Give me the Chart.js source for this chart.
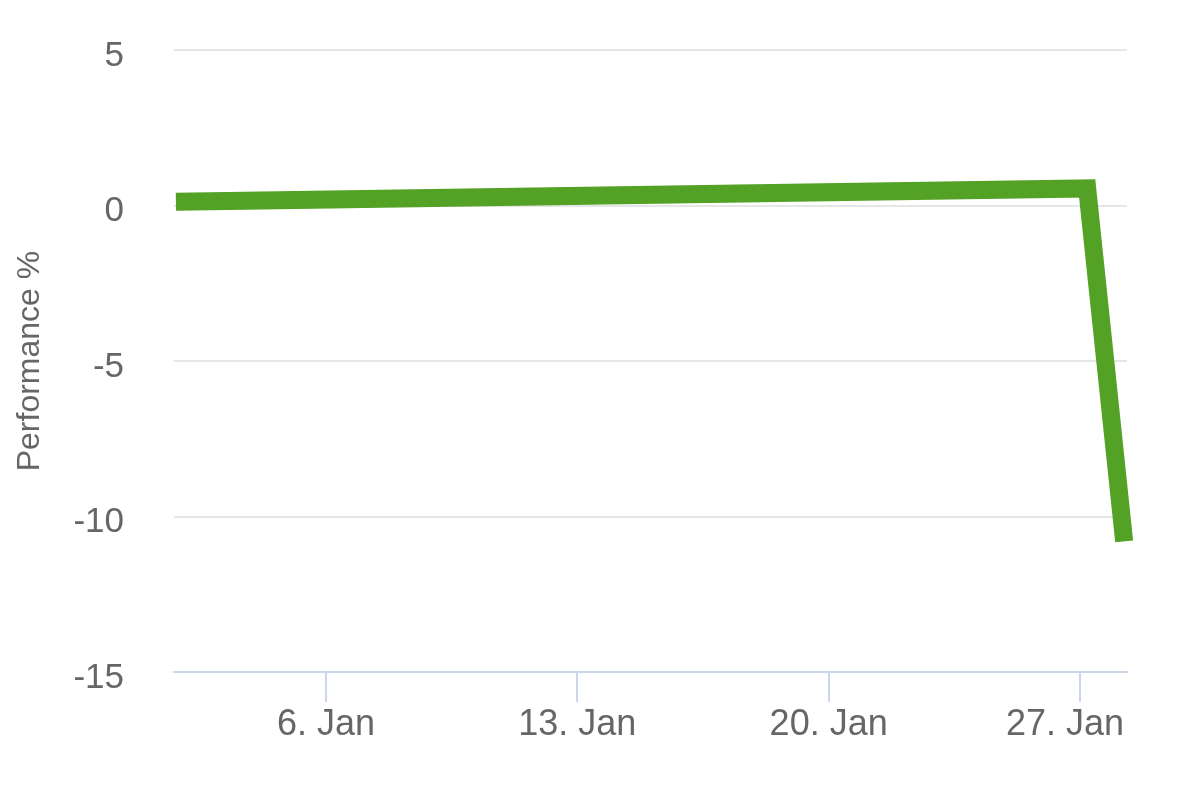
<!DOCTYPE html>
<html>
<head>
<meta charset="utf-8">
<script src="https://cdn.jsdelivr.net/npm/chart.js@4/dist/chart.umd.min.js"></script>
<style>
  html, body { margin: 0; padding: 0; background: #fff; }
  #wrap { width: 1200px; height: 808px; }
</style>
</head>
<body>
<div id="wrap"><canvas id="perfChart" width="1200" height="808"></canvas></div>
<script>
// Data (day of January, performance %)
const dayOfJan = [1.82, 27.2, 28.23];
const performance = [0.12, 0.55, -10.8];
const xTickDays = [6, 13, 20, 27];
const xTickLabels = ['6. Jan', '13. Jan', '20. Jan', '27. Jan'];
const yTicks = [5, 0, -5, -10, -15];

const textColor = '#666666';
const fontFamily = '"Liberation Sans", Arial, sans-serif';

const points = dayOfJan.map((d, i) => ({ x: d, y: performance[i] }));

const ctx = document.getElementById('perfChart').getContext('2d');
new Chart(ctx, {
    type: 'line',
    data: {
        datasets: [{
            label: 'Performance',
            data: points,
            borderColor: '#53a125',
            borderWidth: 18,
            borderJoinStyle: 'miter',
            borderCapStyle: 'butt',
            pointRadius: 0,
            tension: 0,
            fill: false,
            clip: { left: 10, right: 20, top: 10, bottom: 10 }
        }]
    },
    options: {
        responsive: false,
        animation: false,
        layout: { padding: { top: 50, right: 73, left: 0, bottom: 0 } },
        plugins: {
            legend: { display: false },
            tooltip: { enabled: false }
        },
        scales: {
            x: {
                type: 'linear',
                min: 1.767,
                max: 28.309,
                afterBuildTicks: axis => {
                    axis.ticks = xTickDays.map(v => ({ value: v }));
                },
                afterFit: axis => { axis.height = 808 - 672; },
                grid: {
                    drawOnChartArea: false,
                    drawTicks: true,
                    tickLength: 30,
                    color: '#ccd6eb',
                    lineWidth: 2
                },
                border: { display: true, color: '#ccd6eb', width: 2 },
                ticks: {
                    padding: 1,
                    color: textColor,
                    font: { family: fontFamily, size: 36 },
                    maxRotation: 0,
                    // last label is nudged left so it stays inside the plot, as in the original
                    callback: v => {
                        const i = xTickDays.indexOf(v);
                        return i === xTickDays.length - 1 ? xTickLabels[i] + '   ' : xTickLabels[i];
                    }
                }
            },
            y: {
                min: -15,
                max: 5,
                afterBuildTicks: axis => {
                    axis.ticks = yTicks.map(v => ({ value: v }));
                },
                afterFit: axis => { axis.width = 174; },
                grid: {
                    color: '#e6e6e6',
                    lineWidth: 2,
                    drawTicks: true,
                    tickLength: 50,
                    tickColor: 'rgba(0,0,0,0)'
                },
                border: { display: false },
                ticks: {
                    padding: 0,
                    labelOffset: 6,
                    color: textColor,
                    font: { family: fontFamily, size: 35 }
                },
                title: {
                    display: true,
                    text: 'Performance %',
                    color: textColor,
                    font: { family: fontFamily, size: 32 },
                    padding: { top: 11, bottom: 0 }
                }
            }
        }
    }
});
</script>
</body>
</html>
